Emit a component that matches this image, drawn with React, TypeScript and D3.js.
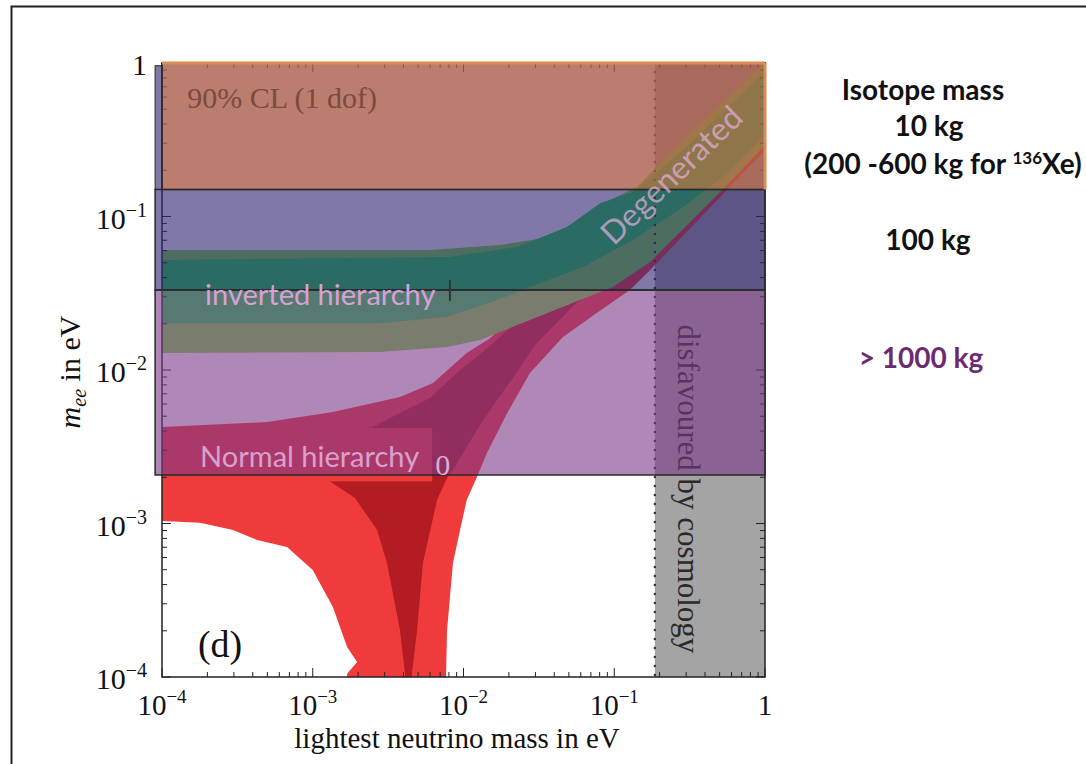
import React from "react";
import * as d3 from "d3";

type Pt = [number, number];

// m_lightest (eV), m_ee (eV)
const ihOuterUpper: Pt[] = [[1e-4, 0.0605], [0.006, 0.0605], [0.0175, 0.0652], [0.0375, 0.0735], [0.062, 0.099], [0.094, 0.128], [0.142, 0.156], [0.286, 0.315], [0.614, 0.638], [1, 1]];
const ihOuterLower: Pt[] = [[1e-4, 0.0129], [0.0028, 0.0131], [0.0078, 0.0141], [0.0129, 0.0157], [0.0276, 0.0212], [0.0593, 0.0286], [0.098, 0.0347], [0.173, 0.0506], [0.56, 0.16], [1, 0.292]];
const ihInnerUpper: Pt[] = [[1e-4, 0.0521], [0.0081, 0.0545], [0.0227, 0.0633], [0.0486, 0.0855], [0.0804, 0.122], [0.133, 0.144], [0.286, 0.27], [1, 0.88]];
const ihInnerLower: Pt[] = [[1e-4, 0.0202], [0.0028, 0.0202], [0.0078, 0.0222], [0.0167, 0.0286], [0.0276, 0.0347], [0.062, 0.0469], [0.133, 0.0703], [0.286, 0.115], [0.56, 0.192], [1, 0.34]];

const nhOuterUpper: Pt[] = [[1e-4, 0.00425], [5e-4, 0.00458], [0.00136, 0.00532], [0.00379, 0.00667], [0.00628, 0.00823], [0.0105, 0.0129], [0.015, 0.0161], [0.03, 0.03], [0.1, 0.08], [0.3, 0.25], [1, 0.8]];
// traced from the degenerate end, down the right side, around the gap, back to the left axis
const nhOuterLowerEdge: Pt[] = [[1, 0.271], [0.56, 0.149], [0.173, 0.0448], [0.127, 0.0332], [0.0769, 0.0236], [0.0457, 0.0164], [0.0276, 0.00956], [0.0195, 0.00524], [0.0143, 0.00288], [0.0123, 0.00202], [0.0105, 0.00142], [0.00949, 9.07e-4], [0.00851, 5.53e-4], [0.00778, 2.02e-4], [0.00753, 5e-5], [0.00169, 5e-5], [0.00169, 1.05e-4], [0.00197, 1.25e-4], [0.00169, 1.57e-4], [0.00136, 2.86e-4], [0.001, 4.98e-4], [6.75e-4, 7.03e-4], [4.27e-4, 7.81e-4], [2.96e-4, 9.07e-4], [1.79e-4, 1.01e-3], [1e-4, 1.04e-3]];
const nhInnerEdge: Pt[] = [[0.00229, 0.00407], [0.0012, 0.00198], [0.0019, 0.00147], [0.00267, 9.07e-4], [0.00311, 5.53e-4], [0.00379, 2.02e-4], [0.00409, 1.06e-4], [0.0043, 5e-5], [0.0044, 5e-5], [0.00455, 1.06e-4], [0.00492, 2.02e-4], [0.00538, 5.53e-4], [0.00582, 7.81e-4], [0.00667, 0.00142], [0.00778, 0.00198], [0.00891, 0.0024], [0.0107, 0.00325], [0.01285, 0.00438], [0.0167, 0.00638], [0.022, 0.00928], [0.0298, 0.01455], [0.0544, 0.0266], [0.148, 0.0561], [0.371, 0.138], [1, 0.315], [1, 0.6], [0.3, 0.2], [0.1, 0.06], [0.03, 0.026], [0.0139, 0.0135], [0.00949, 0.01], [0.006, 0.00657], [0.00379, 0.00524]];

const cosmologyLimit = 0.186;

// isotope-mass sensitivity bands (m_ee ranges)
const bandNames = ["> 1000 kg", "100 kg", "10 kg"];
const bandLow = [0.00207, 0.0332, 0.15];
const bandHigh = [0.0332, 0.15, 1];
const bandColors = ["#7b3989", "#32256f", "#aa5d49"];
const bandOpacity = [0.6, 0.62, 0.8];

const decades = [1e-4, 1e-3, 1e-2, 1e-1, 1];
const decadeExp = ["−4", "−3", "−2", "−1", ""];

const serif = "'Liberation Serif','Times New Roman',serif";
const sans = "Lato, 'Open Sans', sans-serif";

export default function App() {
  const x = d3.scaleLog().domain([1e-4, 1]).range([162, 765]);
  const y = d3.scaleLog().domain([1e-4, 1]).range([677, 63]);
  const line = d3.line<Pt>().x(d => x(d[0])).y(d => y(d[1]));
  const poly = (pts: Pt[]) => line(pts) + "Z";
  const band = (up: Pt[], lo: Pt[]) => poly([...up, ...lo.slice().reverse()]);
  const box = (m0: number, m1: number, e0: number, e1: number) => ({
    x: x(m0), y: y(e1), width: x(m1) - x(m0), height: y(e0) - y(e1),
  });
  const [x0, x1] = x.range();
  const [y0, y1] = y.range();
  const minor = x.ticks();
  const isMajor = (v: number) => Math.abs(Math.log10(v) - Math.round(Math.log10(v))) < 1e-6;

  return (
    <svg width={1086} height={764} style={{position: "absolute", left: 0, top: 0, background: "#fff"}} fontFamily={serif}>
      <defs>
        <clipPath id="plot"><rect x={x0} y={y1} width={x1 - x0} height={y0 - y1}/></clipPath>
      </defs>
      <path d="M11.5,764 V6.5 H1086" fill="none" stroke="#222" strokeWidth={2}/>

      <g clipPath="url(#plot)">
        <rect {...box(cosmologyLimit, 1, 1e-5, 1)} fill="#a4a4a4"/>
        <path d={poly([...nhOuterUpper, ...nhOuterLowerEdge])} fill="#ef3b3b"/>
        <path d={poly(nhInnerEdge)} fill="#b21c22"/>
        <path d={band(ihOuterUpper, ihOuterLower)} fill="#78e146"/>
        <path d={band(ihInnerUpper, ihInnerLower)} fill="#1edc50"/>
        <rect {...box(1e-4, 6.2e-3, 0.00188, 0.00419)} fill="#ef3b3b"/>
        <line x1={x(cosmologyLimit)} x2={x(cosmologyLimit)} y1={y1} y2={y0} stroke="#333" strokeWidth={2.5}
              strokeDasharray="0,9" strokeLinecap="round"/>
        <text transform={`translate(${x(0.265)},${y(0.00168)}) rotate(90)`} textAnchor="middle" fontSize={31} fill="#2a2a2a">
          disfavoured by cosmology
        </text>
      </g>

      {/* frame and ticks */}
      <rect x={x0} y={y1} width={x1 - x0} height={y0 - y1} fill="none" stroke="#222" strokeWidth={1.5}/>
      {minor.map((v, i) => {
        const L = isMajor(v) ? 9 : 5;
        return (
          <g key={i} stroke="#222" strokeWidth={1}>
            <line x1={x(v)} x2={x(v)} y1={y0} y2={y0 - L}/>
            <line x1={x(v)} x2={x(v)} y1={y1} y2={y1 + L}/>
            <line y1={y(v)} y2={y(v)} x1={x0} x2={x0 + L}/>
            <line y1={y(v)} y2={y(v)} x1={x1} x2={x1 - L}/>
          </g>
        );
      })}

      {/* sensitivity bands */}
      {bandNames.map((n, i) => {
        const left = i === 2 ? 1e-4 : 9e-5;
        return <rect key={n} {...box(left, 1, bandLow[i], bandHigh[i])} fill={bandColors[i]} fillOpacity={bandOpacity[i]}
                     stroke="#2a2a2a" strokeWidth={1.5}/>;
      })}
      <rect {...box(9e-5, 1e-4, bandHigh[1], 0.96)} fill={bandColors[1]} fillOpacity={bandOpacity[1]} stroke="#2a2a2a" strokeWidth={1}/>
      <line x1={x0} x2={x1} y1={y1} y2={y1} stroke="#d98b52" strokeWidth={3}/>
      <line x1={x1} x2={x1} y1={y1} y2={y(bandLow[2])} stroke="#d98b52" strokeWidth={3}/>

      {/* labels inside the plot */}
      <text x={x(1.47e-4)} y={y(0.509)} fontSize={30} fill="#7d4a3e">90% CL (1 dof)</text>
      <text x={x(1.93e-4)} y={y(0.0266)} fontSize={29} fill="#d6a2d6" fontFamily={sans}>inverted hierarchy</text>
      <line x1={x(8.13e-3)} x2={x(8.13e-3)} y1={y(0.0386)} y2={y(0.0282)} stroke="#333" strokeWidth={2}/>
      <text x={x(1.79e-4)} y={y(0.00233)} fontSize={29} fill="#d9a0cf" fontFamily={sans}>Normal hierarchy</text>
      <text x={x(6.5e-3)} y={y(0.00207)} fontSize={30} fill="#dcaad2">0</text>
      <text transform={`translate(${x(0.27)},${y(0.165)}) rotate(-44)`} textAnchor="middle" fontSize={32}
            fontFamily={sans} fill="#e6b0e0" fillOpacity={0.7}>Degenerated</text>
      <text x={x(1.73e-4)} y={y(1.35e-4)} fontSize={38} fill="#111">(d)</text>

      {/* axes labels */}
      {decades.map((v, i) => (
        <text key={"x" + i} x={x(v)} y={715} textAnchor="middle" fontSize={29} fill="#111">
          {decadeExp[i] ? <>10<tspan fontSize={19} dy={-12}>{decadeExp[i]}</tspan></> : "1"}
        </text>
      ))}
      {decades.map((v, i) => (
        <text key={"y" + i} x={147} y={y(v) + 12} textAnchor="end" fontSize={30} fill="#111">
          {decadeExp[i] ? <>10<tspan fontSize={20} dy={-12}>{decadeExp[i]}</tspan></> : "1"}
        </text>
      ))}
      <text x={457} y={748} textAnchor="middle" fontSize={29} fill="#111">lightest neutrino mass in eV</text>
      <text transform="translate(80,372) rotate(-90)" textAnchor="middle" fontSize={30} fill="#111">
        <tspan fontStyle="italic">m</tspan>
        <tspan fontStyle="italic" fontSize={20} dy={6}>ee</tspan>
        <tspan dy={-6}>{"  in eV"}</tspan>
      </text>

      {/* isotope mass legend */}
      <g fontFamily={sans} fontWeight="bold" fontSize={28} textAnchor="middle" fill="#111">
        <text x={923} y={100}>Isotope mass</text>
        <text x={929} y={136}>{bandNames[2]}</text>
        <text x={943} y={174}>(200 -600 kg for <tspan fontSize={17} dy={-10}>136</tspan><tspan dy={10}>Xe)</tspan></text>
        <text x={928} y={250}>{bandNames[1]}</text>
        <text x={921} y={368} fill="#6d2a72">{bandNames[0]}</text>
      </g>
    </svg>
  );
}
